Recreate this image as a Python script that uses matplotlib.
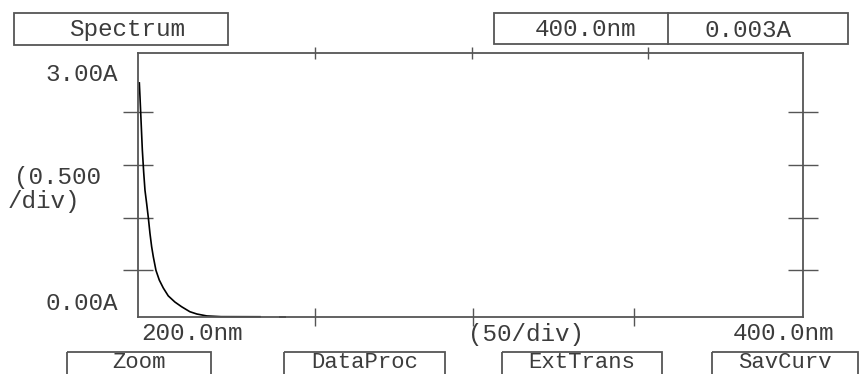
import matplotlib.pyplot as plt
from matplotlib.patches import Rectangle

# spectrum trace (nm, A)
wavelength = [200.4, 200.6, 200.8, 201.3, 201.7, 202.1, 202.6, 203.1, 203.6, 204.1, 204.6,
              205.4, 206.4, 207.6, 209.1, 211.1, 213.1, 215.6, 217.7, 220.7, 225.0, 236.7]
absorbance = [2.66, 2.50, 2.33, 1.90, 1.65, 1.44, 1.29, 1.13, 0.95, 0.80, 0.685,
              0.53, 0.42, 0.33, 0.24, 0.17, 0.117, 0.06, 0.034, 0.012, 0.004, 0.003]
tail_wl = [242.7, 244.2]
tail_abs = [0.003, 0.003]

x_range = [200, 400]
y_range = [0, 3.0]
y_ticks = [0.53, 1.13, 1.73, 2.33]
x_ticks_bottom = [253.2, 300.8, 349.2]
x_ticks_top = [253.2, 300.5, 353.4]

buttons = ['Zoom', 'DataProc', 'ExtTrans', 'SavCurv']
cursor_wl = '400.0nm'
cursor_abs = '0.003A'

W, H = 861, 374
GRAY = '#555555'
TXT = '#3c3c3c'
FONT = 'Liberation Mono'
FS = 17.5

fig = plt.figure(figsize=(W / 100, H / 100), dpi=100)

# overlay in pixel coordinates for boxes and labels
ov = fig.add_axes([0, 0, 1, 1])
ov.set_xlim(0, W)
ov.set_ylim(H, 0)
ov.axis('off')

def box(x0, y0, x1, y1):
    ov.add_patch(Rectangle((x0, y0), x1 - x0, y1 - y0, fill=False,
                           edgecolor=GRAY, linewidth=1.3))

def label(x, y, s, ha='center', fs=FS):
    ov.text(x, y, s, ha=ha, va='center', fontsize=fs, family=FONT, color=TXT)

# header boxes
box(14, 13, 228, 45)
label(127, 29, 'Spectrum')
box(494, 13, 848, 44)
ov.plot([668, 668], [13, 44], color=GRAY, linewidth=1.3)
label(585, 29, cursor_wl)
label(748, 30, cursor_abs)

# axis labels
label(118, 74, '3.00A', ha='right')
label(14, 177, '(0.500', ha='left')
label(8, 201, '/div)', ha='left')
label(118, 303, '0.00A', ha='right')
label(192, 334, '200.0nm')
label(526, 334, '(50/div)')
label(784, 334, '400.0nm')

# bottom buttons (cut off by the screen edge)
btn_x = [(67, 211), (284, 445), (502, 662), (712, 858)]
for (x0, x1), name in zip(btn_x, buttons):
    box(x0, 352, x1, 392)
    label((x0 + x1) / 2, 363, name, fs=16)

# plot area
left, right, top, bottom = 138, 803, 53, 317
ax = fig.add_axes([left / W, (H - bottom) / H, (right - left) / W, (bottom - top) / H])
ax.set_facecolor('none')
ax.set_xlim(x_range)
ax.set_ylim(y_range)
for sp in ax.spines.values():
    sp.set_color(GRAY)
    sp.set_linewidth(1.3)

ax.plot(wavelength, absorbance, color='black', linewidth=1.2, clip_on=False)
ax.plot(tail_wl, tail_abs, color='black', linewidth=1.4, clip_on=False)

ax.set_yticks(y_ticks)
ax.set_xticks(x_ticks_bottom)
ax.tick_params(axis='y', left=True, right=True, direction='inout', length=22,
               width=1.0, color=GRAY, labelleft=False, labelright=False)
ax.tick_params(axis='x', bottom=True, top=False, direction='inout', length=13,
               width=1.0, color=GRAY, labelbottom=False)

sec = ax.secondary_xaxis('top')
sec.set_xticks(x_ticks_top)
sec.tick_params(direction='inout', length=9, width=1.0, color=GRAY, labeltop=False)
sec.spines['top'].set_visible(False)

fig.savefig('out.png', dpi=100)
